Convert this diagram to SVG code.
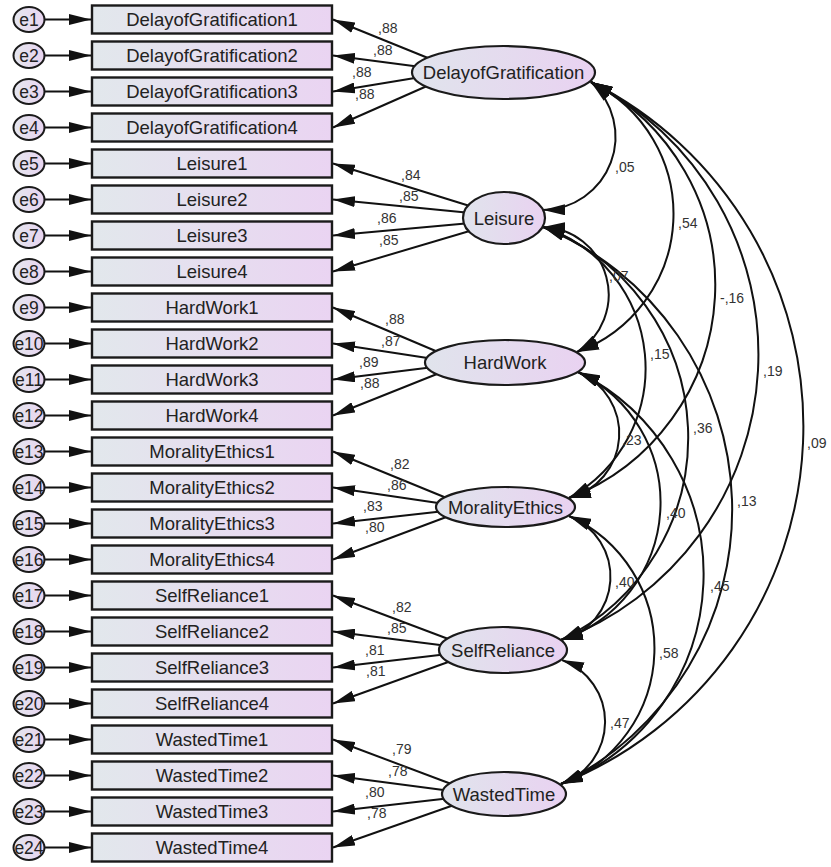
<svg xmlns="http://www.w3.org/2000/svg" width="831" height="867" viewBox="0 0 831 867">
<style>
.box{fill:url(#gb);stroke:#1a1a1a;stroke-width:2.4}
.lat{fill:url(#gl);stroke:#1a1a1a;stroke-width:2.2}
.err{fill:url(#ge);stroke:#1a1a1a;stroke-width:2}
.t{font-family:"Liberation Sans",Arial,sans-serif;font-size:18.5px;fill:#222;text-anchor:middle}
.te{font-family:"Liberation Sans",Arial,sans-serif;font-size:17.5px;fill:#222;text-anchor:middle}
.lb{font-family:"Liberation Sans",Arial,sans-serif;font-size:14px;fill:#333}
.c{stroke:#111;stroke-width:2;fill:none}
.ar{marker-end:url(#ah)}
.cv{marker-start:url(#as);marker-end:url(#ah)}
</style>
<defs>
<linearGradient id="gb" x1="0" y1="0" x2="1" y2="0"><stop offset="0" stop-color="#e2e8ec"/><stop offset="1" stop-color="#ead4f2"/></linearGradient>
<linearGradient id="gl" x1="0" y1="0" x2="1" y2="0"><stop offset="0" stop-color="#e0e4ec"/><stop offset="1" stop-color="#e9d2f1"/></linearGradient>
<linearGradient id="ge" x1="0" y1="0" x2="1" y2="0"><stop offset="0" stop-color="#e4e6ee"/><stop offset="1" stop-color="#e8d4f0"/></linearGradient>
<marker id="ah" markerUnits="userSpaceOnUse" markerWidth="22" markerHeight="11" viewBox="0 0 22 11" refX="22" refY="5.5" orient="auto"><path d="M0,0 L22,5.5 L0,11 z" fill="#111"/></marker>
<marker id="as" markerUnits="userSpaceOnUse" markerWidth="22" markerHeight="11" viewBox="0 0 22 11" refX="0" refY="5.5" orient="auto"><path d="M22,0 L0,5.5 L22,11 z" fill="#111"/></marker>
</defs>

<g id="connectors">
<line class="c ar" x1="44" y1="19.5" x2="91" y2="19.5"/>
<line class="c ar" x1="44" y1="55.5" x2="91" y2="55.5"/>
<line class="c ar" x1="44" y1="91.5" x2="91" y2="91.5"/>
<line class="c ar" x1="44" y1="127.5" x2="91" y2="127.5"/>
<line class="c ar" x1="44" y1="163.5" x2="91" y2="163.5"/>
<line class="c ar" x1="44" y1="199.5" x2="91" y2="199.5"/>
<line class="c ar" x1="44" y1="235.5" x2="91" y2="235.5"/>
<line class="c ar" x1="44" y1="271.5" x2="91" y2="271.5"/>
<line class="c ar" x1="44" y1="307.5" x2="91" y2="307.5"/>
<line class="c ar" x1="44" y1="343.5" x2="91" y2="343.5"/>
<line class="c ar" x1="44" y1="379.5" x2="91" y2="379.5"/>
<line class="c ar" x1="44" y1="415.5" x2="91" y2="415.5"/>
<line class="c ar" x1="44" y1="451.5" x2="91" y2="451.5"/>
<line class="c ar" x1="44" y1="487.5" x2="91" y2="487.5"/>
<line class="c ar" x1="44" y1="523.5" x2="91" y2="523.5"/>
<line class="c ar" x1="44" y1="559.5" x2="91" y2="559.5"/>
<line class="c ar" x1="44" y1="595.5" x2="91" y2="595.5"/>
<line class="c ar" x1="44" y1="631.5" x2="91" y2="631.5"/>
<line class="c ar" x1="44" y1="667.5" x2="91" y2="667.5"/>
<line class="c ar" x1="44" y1="703.5" x2="91" y2="703.5"/>
<line class="c ar" x1="44" y1="739.5" x2="91" y2="739.5"/>
<line class="c ar" x1="44" y1="775.5" x2="91" y2="775.5"/>
<line class="c ar" x1="44" y1="811.5" x2="91" y2="811.5"/>
<line class="c ar" x1="44" y1="847.5" x2="91" y2="847.5"/>
<line class="c ar" x1="428" y1="58" x2="333" y2="19.5"/>
<line class="c ar" x1="421" y1="67" x2="333" y2="55.5"/>
<line class="c ar" x1="421" y1="77" x2="333" y2="91.5"/>
<line class="c ar" x1="427" y1="86" x2="333" y2="127.5"/>
<line class="c ar" x1="473" y1="207" x2="333" y2="163.5"/>
<line class="c ar" x1="471" y1="213" x2="333" y2="199.5"/>
<line class="c ar" x1="471" y1="223" x2="333" y2="235.5"/>
<line class="c ar" x1="473" y1="230" x2="333" y2="271.5"/>
<line class="c ar" x1="438" y1="352" x2="333" y2="307.5"/>
<line class="c ar" x1="434" y1="359" x2="333" y2="343.5"/>
<line class="c ar" x1="434" y1="367" x2="333" y2="379.5"/>
<line class="c ar" x1="437" y1="374" x2="333" y2="415.5"/>
<line class="c ar" x1="449" y1="499" x2="333" y2="451.5"/>
<line class="c ar" x1="445" y1="504" x2="333" y2="487.5"/>
<line class="c ar" x1="445" y1="511" x2="333" y2="523.5"/>
<line class="c ar" x1="449" y1="516" x2="333" y2="559.5"/>
<line class="c ar" x1="451" y1="640" x2="333" y2="595.5"/>
<line class="c ar" x1="448" y1="646" x2="333" y2="631.5"/>
<line class="c ar" x1="448" y1="654" x2="333" y2="667.5"/>
<line class="c ar" x1="451" y1="661" x2="333" y2="703.5"/>
<line class="c ar" x1="454" y1="785" x2="333" y2="739.5"/>
<line class="c ar" x1="451" y1="791" x2="333" y2="775.5"/>
<line class="c ar" x1="451" y1="798" x2="333" y2="811.5"/>
<line class="c ar" x1="454" y1="805" x2="333" y2="847.5"/>
<path class="c cv" d="M591,82 A73.3,73.3 0 0 1 543,210"/>
<path class="c cv" d="M591,82 A146.9,146.9 0 0 1 577,352"/>
<path class="c cv" d="M591,82 A228.1,228.1 0 0 1 569,498"/>
<path class="c cv" d="M591,82 A305.3,305.3 0 0 1 561,640"/>
<path class="c cv" d="M591,82 A385.2,385.2 0 0 1 561,784"/>
<path class="c cv" d="M543,227 A67.7,67.7 0 0 1 577,352"/>
<path class="c cv" d="M543,227 A148.4,148.4 0 0 1 569,498"/>
<path class="c cv" d="M543,227 A225,225 0 0 1 561,640"/>
<path class="c cv" d="M543,227 A305.6,305.6 0 0 1 561,784"/>
<path class="c cv" d="M578,372 A66.5,66.5 0 0 1 569,498"/>
<path class="c cv" d="M578,372 A144.6,144.6 0 0 1 561,640"/>
<path class="c cv" d="M578,372 A225.6,225.6 0 0 1 561,784"/>
<path class="c cv" d="M569,516 A65.2,65.2 0 0 1 561,640"/>
<path class="c cv" d="M569,516 A145.2,145.2 0 0 1 561,784"/>
<path class="c cv" d="M562,660 A65.9,65.9 0 0 1 561,784"/>
</g>

<g id="errors">
<g id="e1"><ellipse class="err" cx="29" cy="19.5" rx="15.5" ry="12.5"/><text class="te" x="29" y="25.5">e1</text></g>
<g id="e2"><ellipse class="err" cx="29" cy="55.5" rx="15.5" ry="12.5"/><text class="te" x="29" y="61.5">e2</text></g>
<g id="e3"><ellipse class="err" cx="29" cy="91.5" rx="15.5" ry="12.5"/><text class="te" x="29" y="97.5">e3</text></g>
<g id="e4"><ellipse class="err" cx="29" cy="127.5" rx="15.5" ry="12.5"/><text class="te" x="29" y="133.5">e4</text></g>
<g id="e5"><ellipse class="err" cx="29" cy="163.5" rx="15.5" ry="12.5"/><text class="te" x="29" y="169.5">e5</text></g>
<g id="e6"><ellipse class="err" cx="29" cy="199.5" rx="15.5" ry="12.5"/><text class="te" x="29" y="205.5">e6</text></g>
<g id="e7"><ellipse class="err" cx="29" cy="235.5" rx="15.5" ry="12.5"/><text class="te" x="29" y="241.5">e7</text></g>
<g id="e8"><ellipse class="err" cx="29" cy="271.5" rx="15.5" ry="12.5"/><text class="te" x="29" y="277.5">e8</text></g>
<g id="e9"><ellipse class="err" cx="29" cy="307.5" rx="15.5" ry="12.5"/><text class="te" x="29" y="313.5">e9</text></g>
<g id="e10"><ellipse class="err" cx="29" cy="343.5" rx="15.5" ry="12.5"/><text class="te" x="29" y="349.5">e10</text></g>
<g id="e11"><ellipse class="err" cx="29" cy="379.5" rx="15.5" ry="12.5"/><text class="te" x="29" y="385.5">e11</text></g>
<g id="e12"><ellipse class="err" cx="29" cy="415.5" rx="15.5" ry="12.5"/><text class="te" x="29" y="421.5">e12</text></g>
<g id="e13"><ellipse class="err" cx="29" cy="451.5" rx="15.5" ry="12.5"/><text class="te" x="29" y="457.5">e13</text></g>
<g id="e14"><ellipse class="err" cx="29" cy="487.5" rx="15.5" ry="12.5"/><text class="te" x="29" y="493.5">e14</text></g>
<g id="e15"><ellipse class="err" cx="29" cy="523.5" rx="15.5" ry="12.5"/><text class="te" x="29" y="529.5">e15</text></g>
<g id="e16"><ellipse class="err" cx="29" cy="559.5" rx="15.5" ry="12.5"/><text class="te" x="29" y="565.5">e16</text></g>
<g id="e17"><ellipse class="err" cx="29" cy="595.5" rx="15.5" ry="12.5"/><text class="te" x="29" y="601.5">e17</text></g>
<g id="e18"><ellipse class="err" cx="29" cy="631.5" rx="15.5" ry="12.5"/><text class="te" x="29" y="637.5">e18</text></g>
<g id="e19"><ellipse class="err" cx="29" cy="667.5" rx="15.5" ry="12.5"/><text class="te" x="29" y="673.5">e19</text></g>
<g id="e20"><ellipse class="err" cx="29" cy="703.5" rx="15.5" ry="12.5"/><text class="te" x="29" y="709.5">e20</text></g>
<g id="e21"><ellipse class="err" cx="29" cy="739.5" rx="15.5" ry="12.5"/><text class="te" x="29" y="745.5">e21</text></g>
<g id="e22"><ellipse class="err" cx="29" cy="775.5" rx="15.5" ry="12.5"/><text class="te" x="29" y="781.5">e22</text></g>
<g id="e23"><ellipse class="err" cx="29" cy="811.5" rx="15.5" ry="12.5"/><text class="te" x="29" y="817.5">e23</text></g>
<g id="e24"><ellipse class="err" cx="29" cy="847.5" rx="15.5" ry="12.5"/><text class="te" x="29" y="853.5">e24</text></g>
</g>

<g id="indicators">
<g id="DelayofGratification1"><rect class="box" x="92" y="5.5" width="240" height="28"/><text class="t" x="212" y="26">DelayofGratification1</text></g>
<g id="DelayofGratification2"><rect class="box" x="92" y="41.5" width="240" height="28"/><text class="t" x="212" y="62">DelayofGratification2</text></g>
<g id="DelayofGratification3"><rect class="box" x="92" y="77.5" width="240" height="28"/><text class="t" x="212" y="98">DelayofGratification3</text></g>
<g id="DelayofGratification4"><rect class="box" x="92" y="113.5" width="240" height="28"/><text class="t" x="212" y="134">DelayofGratification4</text></g>
<g id="Leisure1"><rect class="box" x="92" y="149.5" width="240" height="28"/><text class="t" x="212" y="170">Leisure1</text></g>
<g id="Leisure2"><rect class="box" x="92" y="185.5" width="240" height="28"/><text class="t" x="212" y="206">Leisure2</text></g>
<g id="Leisure3"><rect class="box" x="92" y="221.5" width="240" height="28"/><text class="t" x="212" y="242">Leisure3</text></g>
<g id="Leisure4"><rect class="box" x="92" y="257.5" width="240" height="28"/><text class="t" x="212" y="278">Leisure4</text></g>
<g id="HardWork1"><rect class="box" x="92" y="293.5" width="240" height="28"/><text class="t" x="212" y="314">HardWork1</text></g>
<g id="HardWork2"><rect class="box" x="92" y="329.5" width="240" height="28"/><text class="t" x="212" y="350">HardWork2</text></g>
<g id="HardWork3"><rect class="box" x="92" y="365.5" width="240" height="28"/><text class="t" x="212" y="386">HardWork3</text></g>
<g id="HardWork4"><rect class="box" x="92" y="401.5" width="240" height="28"/><text class="t" x="212" y="422">HardWork4</text></g>
<g id="MoralityEthics1"><rect class="box" x="92" y="437.5" width="240" height="28"/><text class="t" x="212" y="458">MoralityEthics1</text></g>
<g id="MoralityEthics2"><rect class="box" x="92" y="473.5" width="240" height="28"/><text class="t" x="212" y="494">MoralityEthics2</text></g>
<g id="MoralityEthics3"><rect class="box" x="92" y="509.5" width="240" height="28"/><text class="t" x="212" y="530">MoralityEthics3</text></g>
<g id="MoralityEthics4"><rect class="box" x="92" y="545.5" width="240" height="28"/><text class="t" x="212" y="566">MoralityEthics4</text></g>
<g id="SelfReliance1"><rect class="box" x="92" y="581.5" width="240" height="28"/><text class="t" x="212" y="602">SelfReliance1</text></g>
<g id="SelfReliance2"><rect class="box" x="92" y="617.5" width="240" height="28"/><text class="t" x="212" y="638">SelfReliance2</text></g>
<g id="SelfReliance3"><rect class="box" x="92" y="653.5" width="240" height="28"/><text class="t" x="212" y="674">SelfReliance3</text></g>
<g id="SelfReliance4"><rect class="box" x="92" y="689.5" width="240" height="28"/><text class="t" x="212" y="710">SelfReliance4</text></g>
<g id="WastedTime1"><rect class="box" x="92" y="725.5" width="240" height="28"/><text class="t" x="212" y="746">WastedTime1</text></g>
<g id="WastedTime2"><rect class="box" x="92" y="761.5" width="240" height="28"/><text class="t" x="212" y="782">WastedTime2</text></g>
<g id="WastedTime3"><rect class="box" x="92" y="797.5" width="240" height="28"/><text class="t" x="212" y="818">WastedTime3</text></g>
<g id="WastedTime4"><rect class="box" x="92" y="833.5" width="240" height="28"/><text class="t" x="212" y="854">WastedTime4</text></g>
</g>

<g id="latents">
<g id="DelayofGratification"><ellipse class="lat" cx="503.5" cy="72.5" rx="91.5" ry="26.5"/><text class="t" x="503.5" y="79">DelayofGratification</text></g>
<g id="Leisure"><ellipse class="lat" cx="504" cy="218" rx="41" ry="26"/><text class="t" x="504" y="224.5">Leisure</text></g>
<g id="HardWork"><ellipse class="lat" cx="505" cy="362.5" rx="80" ry="22.5"/><text class="t" x="505" y="369">HardWork</text></g>
<g id="MoralityEthics"><ellipse class="lat" cx="505.5" cy="507" rx="69.5" ry="20"/><text class="t" x="505.5" y="513.5">MoralityEthics</text></g>
<g id="SelfReliance"><ellipse class="lat" cx="503" cy="650" rx="64" ry="23"/><text class="t" x="503" y="656.5">SelfReliance</text></g>
<g id="WastedTime"><ellipse class="lat" cx="504" cy="794" rx="62" ry="22"/><text class="t" x="504" y="800.5">WastedTime</text></g>
</g>

<g id="labels">
<text class="lb" x="378" y="33">,88</text>
<text class="lb" x="373" y="55">,88</text>
<text class="lb" x="352" y="77">,88</text>
<text class="lb" x="355" y="99">,88</text>
<text class="lb" x="401" y="180">,84</text>
<text class="lb" x="399" y="201">,85</text>
<text class="lb" x="377" y="223">,86</text>
<text class="lb" x="379" y="245">,85</text>
<text class="lb" x="385" y="324">,88</text>
<text class="lb" x="381" y="346">,87</text>
<text class="lb" x="359" y="367">,89</text>
<text class="lb" x="360" y="388">,88</text>
<text class="lb" x="390" y="469">,82</text>
<text class="lb" x="387" y="490">,86</text>
<text class="lb" x="363" y="511">,83</text>
<text class="lb" x="365" y="532">,80</text>
<text class="lb" x="392" y="612">,82</text>
<text class="lb" x="387" y="633">,85</text>
<text class="lb" x="365" y="655">,81</text>
<text class="lb" x="366" y="676">,81</text>
<text class="lb" x="392" y="754">,79</text>
<text class="lb" x="388" y="776">,78</text>
<text class="lb" x="365" y="797">,80</text>
<text class="lb" x="367" y="818">,78</text>
<text class="lb" x="615" y="172">,05</text>
<text class="lb" x="678" y="228">,54</text>
<text class="lb" x="720" y="303">-,16</text>
<text class="lb" x="763" y="376">,19</text>
<text class="lb" x="807" y="448">,09</text>
<text class="lb" x="609" y="281">,07</text>
<text class="lb" x="650" y="359">,15</text>
<text class="lb" x="693" y="433">,36</text>
<text class="lb" x="737" y="506">,13</text>
<text class="lb" x="622" y="445">,23</text>
<text class="lb" x="666" y="518">,40</text>
<text class="lb" x="710" y="591">,45</text>
<text class="lb" x="615" y="587">,40</text>
<text class="lb" x="659" y="658">,58</text>
<text class="lb" x="610" y="728">,47</text>
</g>
</svg>
